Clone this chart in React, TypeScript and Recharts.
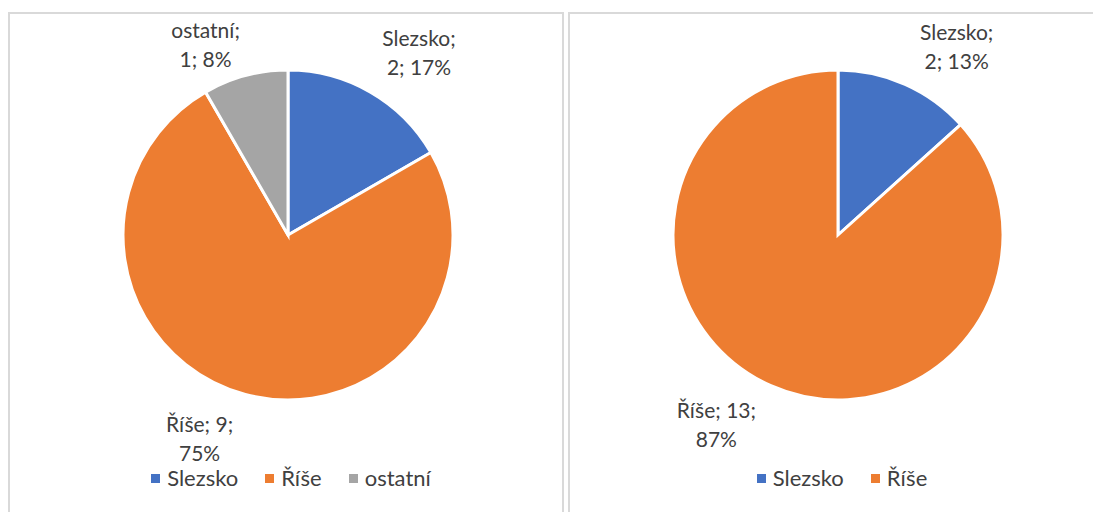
import { Cell, Legend, Pie, PieChart } from "recharts";

const COLORS = ["#4472c4", "#ed7d31", "#a5a5a5"];

const leftNames = ["Slezsko", "Říše", "ostatní"];
const leftValues = [2, 9, 1];

const rightNames = ["Slezsko", "Říše"];
const rightValues = [2, 13];

const leftData = leftNames.map((name, i) => ({ name, value: leftValues[i] }));
const rightData = rightNames.map((name, i) => ({ name, value: rightValues[i] }));

// small per-label tweaks so labels sit roughly where Excel put them
const LEFT_NUDGE = [
  { dx: 22, dy: 8 },
  { dx: -32, dy: -6 },
  { dx: -26, dy: 22 },
];
const RIGHT_NUDGE = [
  { dx: 30, dy: 12 },
  { dx: -33, dy: -8 },
];

const FONT = "Lato, 'Open Sans', sans-serif";
const TEXT = "#404040";
const RADIAN = Math.PI / 180;

function makeLabel(nudge: { dx: number; dy: number }[]) {
  return (props: any) => {
    const { cx, cy, midAngle, percent, name, value, index } = props;
    const r = 163 + 55;
    const x = cx + r * Math.cos(-midAngle * RADIAN) + nudge[index].dx;
    const y = cy + r * Math.sin(-midAngle * RADIAN) + nudge[index].dy;
    const pct = `${Math.round(percent * 100)}%`;
    const lines =
      name.length <= 4
        ? [`${name}; ${value};`, pct]
        : [`${name};`, `${value}; ${pct}`];
    return (
      <text
        x={x}
        y={y}
        textAnchor="middle"
        fill={TEXT}
        fontSize={21}
        fontFamily={FONT}
      >
        <tspan x={x} dy={-8}>
          {lines[0]}
        </tspan>
        <tspan x={x} dy={29}>
          {lines[1]}
        </tspan>
      </text>
    );
  };
}

function LegendContent({ payload, order }: any) {
  const items = [...(payload || [])].sort(
    (a: any, b: any) => order.indexOf(a.value) - order.indexOf(b.value)
  );
  return (
    <div
      style={{
        display: "flex",
        justifyContent: "center",
        gap: 27,
        fontFamily: FONT,
        fontSize: 22,
        color: TEXT,
        lineHeight: "26px",
        paddingLeft: 8,
      }}
    >
      {items.map((p: any) => (
        <div key={p.value} style={{ display: "flex", alignItems: "center" }}>
          <span
            style={{
              display: "inline-block",
              width: 9,
              height: 9,
              background: p.color,
              marginRight: 7,
            }}
          />
          {p.value}
        </div>
      ))}
    </div>
  );
}

function OnePie({
  data,
  names,
  width,
  cx,
  nudge,
}: {
  data: { name: string; value: number }[];
  names: string[];
  width: number;
  cx: number;
  nudge: { dx: number; dy: number }[];
}) {
  return (
    <PieChart
      width={width}
      height={500}
      margin={{ top: 0, right: 0, bottom: 0, left: 0 }}
    >
      <Pie
        data={data}
        dataKey="value"
        nameKey="name"
        cx={cx}
        cy={223}
        outerRadius={165}
        startAngle={90}
        endAngle={-270}
        stroke="#ffffff"
        strokeWidth={3}
        label={makeLabel(nudge)}
        labelLine={false}
        isAnimationActive={false}
      >
        {data.map((d, i) => (
          <Cell key={d.name} fill={COLORS[i]} />
        ))}
      </Pie>
      <Legend
        content={<LegendContent order={names} />}
        verticalAlign="bottom"
        wrapperStyle={{ top: 453, bottom: "auto", left: 0, width: "100%" }}
      />
    </PieChart>
  );
}

export default function App() {
  return (
    <div
      style={{
        position: "absolute",
        left: 0,
        top: 0,
        width: 1093,
        height: 512,
        background: "#fff",
        overflow: "hidden",
      }}
    >
      <div
        style={{
          position: "absolute",
          left: 8,
          top: 12,
          width: 556,
          height: 520,
          border: "2px solid #d9d9d9",
          boxSizing: "border-box",
        }}
      >
        <div style={{ position: "absolute", left: -2, top: -2 }}>
          <OnePie
            data={leftData}
            names={leftNames}
            width={558}
            cx={280}
            nudge={LEFT_NUDGE}
          />
        </div>
      </div>
      <div
        style={{
          position: "absolute",
          left: 568,
          top: 12,
          width: 540,
          height: 520,
          border: "2px solid #d9d9d9",
          boxSizing: "border-box",
        }}
      >
        <div style={{ position: "absolute", left: -2, top: -2 }}>
          <OnePie
            data={rightData}
            names={rightNames}
            width={540}
            cx={270}
            nudge={RIGHT_NUDGE}
          />
        </div>
      </div>
    </div>
  );
}
